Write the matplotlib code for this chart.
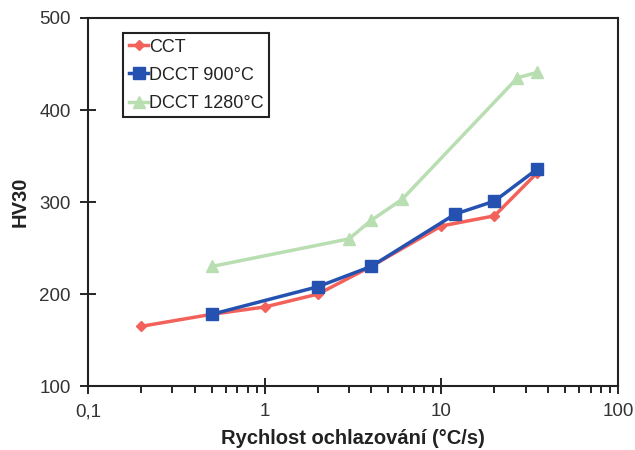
import numpy as np
import matplotlib
matplotlib.use("Agg")
import matplotlib.pyplot as plt
from matplotlib.ticker import FixedLocator, LogLocator, NullFormatter

plt.rcParams['font.family'] = ['Liberation Sans', 'DejaVu Sans']

# Data
cct_x = [0.2, 0.5, 1, 2, 4, 10, 20, 35]
cct_y = [165, 178, 186, 200, 230, 274, 285, 332]
d900_x = [0.5, 2, 4, 12, 20, 35]
d900_y = [178, 208, 230, 287, 301, 336]
d1280_x = [0.5, 3, 4, 6, 27, 35]
d1280_y = [230, 260, 280, 303, 435, 441]

xticks = [0.1, 1, 10, 100]
xtick_labels = ["0,1", "1", "10", "100"]
yticks = [100, 200, 300, 400, 500]

fig = plt.figure(figsize=(6.35, 4.5), dpi=100)
ax = fig.add_axes([0.139, 0.142, 0.834, 0.818])

ax.plot(d1280_x, d1280_y, color="#b9deb2", marker="^", markersize=9, linewidth=2.5,
        label="DCCT 1280°C", zorder=2)
ax.plot(cct_x, cct_y, color="#f2625b", marker="D", markersize=5, linewidth=2.5,
        label="CCT", zorder=3)
ax.plot(d900_x, d900_y, color="#2552b0", marker="s", markersize=8, linewidth=2.5,
        label="DCCT 900°C", zorder=4)

ax.set_xscale("log")
ax.set_xlim(0.1, 100)
ax.set_ylim(100, 500)
ax.xaxis.set_major_locator(FixedLocator(xticks))
ax.set_xticklabels(xtick_labels)
ax.xaxis.set_minor_locator(LogLocator(base=10, subs=np.arange(2, 10)))
ax.xaxis.set_minor_formatter(NullFormatter())
ax.set_yticks(yticks)

ax.tick_params(axis="both", which="major", labelsize=13.5, direction="inout", length=11,
               width=1.2, labelcolor="#333333", pad=7)
ax.tick_params(axis="x", which="minor", direction="out", length=5, width=1.2)

for s in ax.spines.values():
    s.set_linewidth(1.5)
    s.set_color("#222222")

ax.set_xlabel("Rychlost ochlazování (°C/s)", fontsize=14.5, fontweight="bold", labelpad=6,
              color="#222222")
ax.set_ylabel("HV30", fontsize=14.5, fontweight="bold", labelpad=7, color="#222222")

handles, labels = ax.get_legend_handles_labels()
order = [1, 2, 0]
leg = ax.legend([handles[i] for i in order], [labels[i] for i in order],
                loc="upper left", bbox_to_anchor=(0.066, 0.959), fontsize=13,
                fancybox=False, edgecolor="#222222", framealpha=1,
                handlelength=1.1, handletextpad=0.05, borderpad=0.3,
                labelspacing=0.62, borderaxespad=0)
leg.get_frame().set_linewidth(1.5)
for t in leg.get_texts():
    t.set_color("#222222")

fig.savefig("out.png", dpi=100)
